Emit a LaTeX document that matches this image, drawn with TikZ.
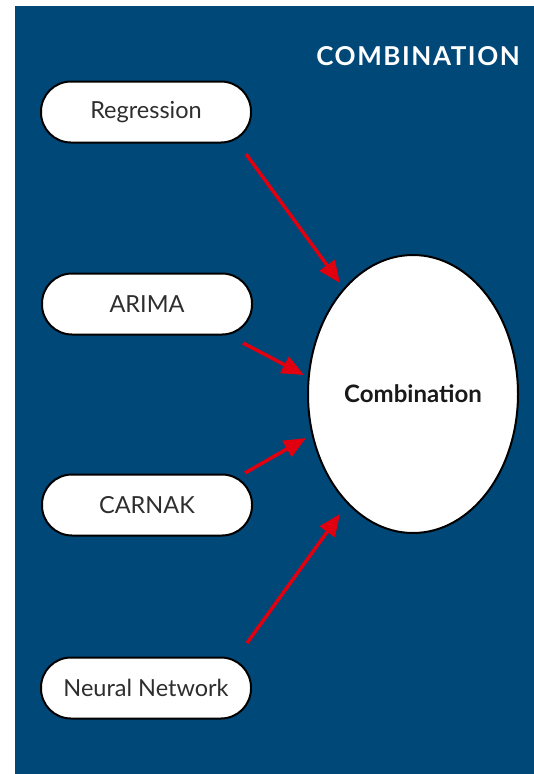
\documentclass[tikz,border=0pt]{standalone}
\usepackage{fontspec}
\setmainfont{Lato}
\usetikzlibrary{arrows.meta,shapes.geometric}
\definecolor{panel}{HTML}{004878}
\definecolor{arr}{HTML}{E0000F}
\definecolor{txt}{HTML}{2E2E2E}
\begin{document}
\begin{tikzpicture}[x=1pt,y=-1pt,
  pill/.style={draw=black, line width=2pt, fill=white, rounded corners=30pt,
    minimum width=210pt, minimum height=61pt, inner sep=0pt,
    font=\fontsize{23.5}{27}\selectfont, text=txt},
  bigoval/.style={ellipse, draw=black, line width=2pt, fill=white,
    minimum width=210pt, minimum height=278pt, inner sep=0pt,
    font=\fontsize{24}{28}\selectfont\bfseries, text=black!90},
  conn/.style={draw=arr, line width=3.5pt, -{Triangle[length=22pt,width=18pt]}}]
\useasboundingbox (0,0) rectangle (534,774);
\fill[white] (0,0) rectangle (534,774);
\fill[panel] (15,6) rectangle (534,774);
\node[font=\fontsize{26}{30}\selectfont\bfseries\addfontfeatures{LetterSpace=6}, text=white, anchor=base east, inner sep=0pt] (title) at (520,65) {COMBINATION};
\node[pill] (reg) at (146,112) {Regression};
\node[pill] (arima) at (147,304) {ARIMA};
\node[pill] (carnak) at (147,505) {CARNAK};
\node[pill] (nn) at (146,688) {Neural Network};
\node[bigoval] (comb) at (413,394) {Combination};
\coordinate (s1) at (246,154);
\coordinate (e1) at (340,283);
\coordinate (s2) at (243,343);
\coordinate (e2) at (304,375);
\coordinate (s3) at (245,473);
\coordinate (e3) at (306,438);
\coordinate (s4) at (247,643);
\coordinate (e4) at (340,514);
\draw[conn] (s1) -- (e1);
\draw[conn] (s2) -- (e2);
\draw[conn] (s3) -- (e3);
\draw[conn] (s4) -- (e4);
\end{tikzpicture}
\end{document}
